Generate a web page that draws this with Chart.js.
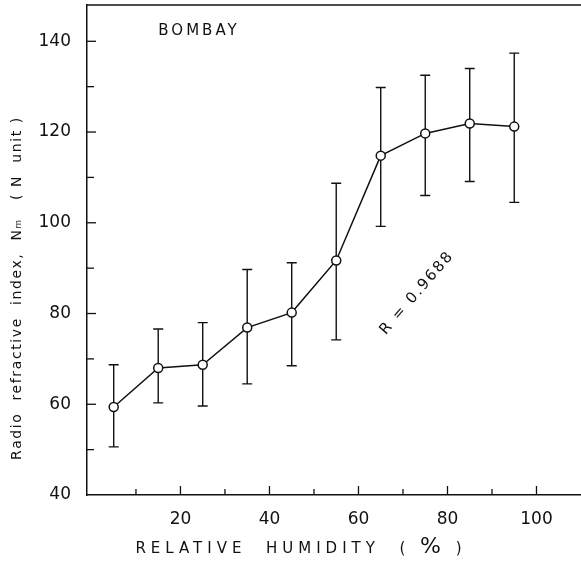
<!DOCTYPE html>
<html lang="en">
<head>
    <meta charset="UTF-8">
    <title>Bombay - Radio refractive index vs relative humidity</title>
    <script src="https://cdn.jsdelivr.net/npm/chart.js"></script>
    <style>
        html, body { margin: 0; padding: 0; background: #fff; }
        #wrap { width: 581px; height: 565px; }
    </style>
</head>
<body>
    <div id="wrap"><canvas id="rhChart" width="581" height="565"></canvas></div>
    <script>
        // relative humidity class centres (%)
        const humidity = [5, 15, 25, 35, 45, 55, 65, 75, 85, 95];
        // mean radio refractive index Nm (N unit)
        const meanN = [59.4, 68.0, 68.7, 76.9, 80.2, 91.7, 114.8, 119.7, 121.9, 121.2];
        // error bar ends
        const upperN = [68.7, 76.6, 78.0, 89.7, 91.2, 108.7, 129.8, 132.5, 134.0, 137.4];
        const lowerN = [50.6, 60.3, 59.6, 64.5, 68.5, 74.2, 99.2, 106.0, 109.1, 104.5];
        const xTickLabels = [20, 40, 60, 80, 100];
        const yTickLabels = [40, 60, 80, 100, 120, 140];

        const ink = '#111';
        const fontFam = '"DejaVu Sans", sans-serif';

        const errorBars = {
            id: 'errorBars',
            beforeDatasetsDraw(chart) {
                const { ctx, scales: { x, y } } = chart;
                ctx.save();
                ctx.strokeStyle = ink;
                ctx.lineWidth = 1.4;
                humidity.forEach((h, i) => {
                    const px = x.getPixelForValue(h);
                    const top = y.getPixelForValue(upperN[i]);
                    const bot = y.getPixelForValue(lowerN[i]);
                    ctx.beginPath();
                    ctx.moveTo(px, top); ctx.lineTo(px, bot);
                    ctx.moveTo(px - 5, top); ctx.lineTo(px + 5, top);
                    ctx.moveTo(px - 5, bot); ctx.lineTo(px + 5, bot);
                    ctx.stroke();
                });
                ctx.restore();
            }
        };

        const frameAndText = {
            id: 'frameAndText',
            afterDraw(chart) {
                const { ctx, chartArea: a, scales: { x, y } } = chart;
                ctx.save();
                ctx.strokeStyle = ink;
                ctx.lineWidth = 1.5;
                // top frame line
                ctx.beginPath();
                ctx.moveTo(a.left, a.top); ctx.lineTo(a.right, a.top);
                ctx.stroke();
                // inward ticks
                ctx.lineWidth = 1.3;
                for (let v = 50; v <= 140; v += 10) {
                    const py = y.getPixelForValue(v);
                    ctx.beginPath();
                    ctx.moveTo(a.left, py); ctx.lineTo(a.left + (v % 20 === 0 ? 9 : 7), py);
                    ctx.stroke();
                }
                for (let v = 10; v <= 100; v += 10) {
                    const px = x.getPixelForValue(v);
                    ctx.beginPath();
                    ctx.moveTo(px, a.bottom); ctx.lineTo(px, a.bottom - (v % 20 === 0 ? 9 : 6));
                    ctx.stroke();
                }

                ctx.fillStyle = ink;
                ctx.textAlign = 'center';
                ctx.textBaseline = 'middle';

                ctx.font = '15px ' + fontFam;
                ctx.letterSpacing = '3px';
                ctx.fillText('BOMBAY', 199, 31);

                // x axis title
                ctx.letterSpacing = '5px';
                ctx.font = '15px ' + fontFam;
                ctx.textAlign = 'left';
                const t1 = 'RELATIVE  HUMIDITY  ( ';
                const t3 = ' )';
                const w1 = ctx.measureText(t1).width;
                ctx.font = '22px ' + fontFam;
                const w2 = ctx.measureText('%').width;
                ctx.font = '15px ' + fontFam;
                const w3 = ctx.measureText(t3).width;
                let sx = 301 - (w1 + w2 + w3) / 2;
                ctx.fillText(t1, sx, 549);
                ctx.font = '22px ' + fontFam;
                ctx.fillText('%', sx + w1, 547);
                ctx.font = '15px ' + fontFam;
                ctx.fillText(t3, sx + w1 + w2, 549);

                // y axis title
                ctx.save();
                ctx.translate(17, 288);
                ctx.rotate(-Math.PI / 2);
                ctx.textAlign = 'center';
                ctx.letterSpacing = '1.6px';
                ctx.font = '14px ' + fontFam;
                ctx.fillText('Radio  refractive  index,  Nₘ   ( N  unit )', 0, 0);
                ctx.restore();

                // correlation coefficient
                ctx.save();
                ctx.translate(417, 293);
                ctx.rotate(-0.86);
                ctx.textAlign = 'center';
                ctx.letterSpacing = '2px';
                ctx.font = '15px ' + fontFam;
                ctx.fillText('R = 0.9688', 0, 0);
                ctx.restore();

                ctx.restore();
            }
        };

        new Chart(document.getElementById('rhChart'), {
            type: 'line',
            data: {
                datasets: [{
                    label: 'Bombay',
                    data: humidity.map((h, i) => ({ x: h, y: meanN[i] })),
                    borderColor: ink,
                    borderWidth: 1.5,
                    pointRadius: 4.5,
                    pointBorderWidth: 1.5,
                    pointBackgroundColor: '#fff',
                    pointBorderColor: ink,
                    tension: 0
                }]
            },
            options: {
                responsive: false,
                animation: false,
                layout: { autoPadding: false, padding: { top: 5, right: 0, left: 0, bottom: 0 } },
                plugins: { legend: { display: false }, tooltip: { enabled: false } },
                scales: {
                    x: {
                        type: 'linear',
                        min: -1,
                        max: 110,
                        grid: { display: false, drawTicks: false },
                        border: { display: true, color: ink, width: 1.5 },
                        afterFit(scale) {
                            scale.height = 70;
                            scale.paddingLeft = 0; scale.paddingRight = 0;
                        },
                        afterBuildTicks(scale) { scale.ticks = xTickLabels.map(v => ({ value: v })); },
                        ticks: {
                            color: ink,
                            padding: 14,
                            maxRotation: 0,
                            font: { family: fontFam, size: 17 }
                        }
                    },
                    y: {
                        min: 40,
                        max: 148,
                        grid: { display: false, drawTicks: false },
                        border: { display: true, color: ink, width: 1.5 },
                        afterFit(scale) {
                            scale.width = 87;
                            scale.paddingTop = 0; scale.paddingBottom = 0;
                        },
                        afterBuildTicks(scale) { scale.ticks = yTickLabels.map(v => ({ value: v })); },
                        ticks: {
                            color: ink,
                            padding: 16,
                            font: { family: fontFam, size: 17 }
                        }
                    }
                }
            },
            plugins: [errorBars, frameAndText]
        });
    </script>
</body>
</html>
